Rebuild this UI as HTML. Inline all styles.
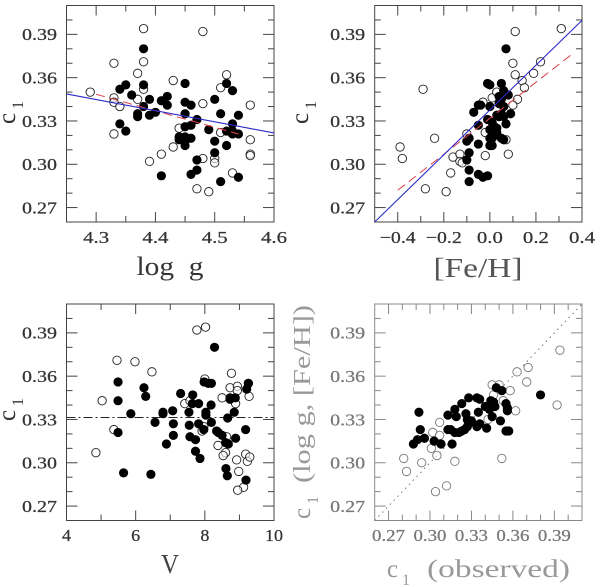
<!DOCTYPE html>
<html>
<head>
<meta charset="utf-8">
<title>c1 correlations</title>
<style>
html,body{margin:0;padding:0;background:#fff;}
svg{display:block;position:absolute;left:0;top:0;}
text{font-family:"Liberation Serif",serif;}
</style>
</head>
<body>
<svg id="chart" width="600" height="587" viewBox="0 0 600 587" xmlns="http://www.w3.org/2000/svg"></svg>
<script>
// Panel A: log g
const aFilledX=[4.38,4.35,4.34,4.36,4.38,4.39,4.38,4.37,4.37,4.39,4.40,4.34,4.35,4.41,4.42,4.42,4.41,4.45,4.45,4.46,4.45,4.47,4.46,4.45,4.44,4.44,4.45,4.46,4.45,4.45,4.47,4.47,4.46,4.50,4.51,4.49,4.50,4.50,4.51,4.52,4.53,4.54,4.53,4.52,4.53,4.54,4.52,4.54,4.53];
const aFilledY=[.380,.355,.352,.348,.355,.345,.340,.335,.333,.334,.336,.328,.323,.344,.347,.341,.292,.356,.343,.341,.335,.331,.327,.326,.319,.317,.319,.318,.316,.313,.303,.296,.293,.345,.335,.324,.316,.308,.288,.356,.351,.334,.328,.323,.321,.321,.313,.291,.323];
const aOpenX=[4.29,4.33,4.33,4.34,4.33,4.33,4.38,4.38,4.37,4.38,4.37,4.43,4.48,4.44,4.43,4.41,4.39,4.48,4.48,4.50,4.50,4.49,4.47,4.52,4.51,4.51,4.53,4.56,4.56,4.56,4.56];
const aOpenY=[.350,.346,.343,.340,.370,.321,.394,.371,.363,.352,.345,.358,.392,.325,.312,.307,.302,.342,.304,.304,.301,.281,.283,.362,.353,.322,.294,.341,.317,.307,.306];
const aBlueX=[4.25,4.6];
const aBlueY=[.3487,.3217];
const aRedX=[4.30,4.54];
const aRedY=[.3485,.321];
// Panel B: [Fe/H]
const bFilledX=[.07,-.01,0,.05,.06,.08,.04,.05,.04,.06,-.04,-.05,0,-.07,.09,.03,.05,.06,.04,-.01,-.05,.07,.01,.02,.03,0,.01,.02,.03,.01,0,.05,.06,-.09,-.10,-.05,0,.01,-.09,-.10,-.09,-.05,-.03,-.01,-.09];
const bFilledY=[.380,.356,.355,.356,.351,.348,.347,.345,.342,.340,.341,.341,.340,.336,.335,.334,.335,.333,.333,.331,.327,.328,.329,.326,.325,.324,.322,.320,.322,.318,.318,.318,.317,.318,.316,.314,.313,.313,.308,.303,.296,.293,.291,.292,.288];
const bOpenX=[.31,.11,.10,.22,.19,.11,.14,.15,.12,-.29,.10,-.03,.01,.03,-.10,-.02,-.24,.07,-.39,-.38,.08,-.02,-.16,-.13,-.13,-.12,-.17,-.28,-.19];
const bOpenY=[.394,.392,.370,.371,.363,.362,.358,.353,.345,.352,.341,.343,.346,.350,.321,.322,.318,.317,.312,.304,.307,.306,.305,.307,.302,.301,.294,.283,.281];
const bBlueX=[-.5,.4];
const bBlueY=[.26,.3997];
const bRedX=[-.4,.35];
const bRedY=[.282,.3755];
// Panel C: V
const cFilledX=[8.28,5.49,5.49,6.24,6.29,5.86,5.49,5.65,6.44,6.56,6.79,6.79,7.07,7.09,7.09,6.89,7.30,7.65,7.64,7.82,7.54,7.55,7.57,7.73,7.82,7.97,8.03,8.03,8.18,8.19,7.73,7.86,7.98,8.10,8.19,8.34,8.39,8.50,8.60,8.68,8.66,8.85,8.73,8.88,8.73,8.89,9.18,9.26,9.21,8.61,8.65,9.19,9.26];
const cFilledY=[.380,.356,.343,.352,.346,.334,.321,.293,.292,.328,.334,.335,.336,.327,.319,.313,.348,.347,.341,.341,.335,.326,.318,.316,.327,.323,.335,.333,.340,.328,.308,.303,.356,.355,.355,.322,.321,.319,.314,.313,.331,.335,.344,.345,.345,.317,.323,.355,.351,.296,.291,.288,.355];
const cOpenX=[7.77,8.02,5.46,5.98,6.47,5.03,5.37,4.85,7.42,7.57,8.00,8.77,8.73,8.94,8.94,8.50,9.28,8.89,7.92,7.97,8.63,8.38,8.60,8.53,8.92,9.18,9.23,9.30,8.98,9.12,8.95];
const cOpenY=[.392,.394,.371,.370,.363,.343,.323,.307,.341,.343,.358,.362,.352,.353,.350,.345,.346,.341,.322,.325,.318,.312,.307,.305,.302,.306,.301,.304,.294,.283,.281];
const cMeanX=[4,10];
const cMeanY=[.3314,.3314];
// Panel D: observed vs fitted
const dFilledX=[.380,.348,.352,.292,.293,.288,.291,.296,.303,.308,.316,.313,.318,.323,.328,.334,.336,.335,.319,.326,.313,.315,.318,.321,.323,.325,.327,.327,.328,.330,.334,.336,.341,.340,.343,.344,.346,.347,.345,.351,.355,.356,.356,.355,.357];
const dFilledY=[.347,.352,.350,.335,.323,.313,.316,.317,.315,.313,.313,.333,.337,.341,.345,.345,.344,.335,.332,.334,.323,.323,.321,.321,.322,.323,.325,.330,.327,.329,.325,.327,.324,.339,.337,.343,.342,.339,.332,.329,.341,.338,.336,.322,.322];
const dOpenX=[.394,.392,.363,.371,.370,.358,.345,.350,.346,.353,.362,.342,.307,.302,.307,.301,.305,.294,.281,.283,.318,.352,.312,.304];
const dOpenY=[.378,.340,.363,.366,.356,.350,.354,.354,.347,.343,.336,.330,.328,.321,.319,.310,.305,.300,.303,.294,.301,.303,.284,.280];
const dDiagX=[.26,.41];
const dDiagY=[.26,.41];
// Tick labels
const c1Ticks=[.27,.30,.33,.36,.39];
const aXTicks=[4.3,4.4,4.5,4.6];
const bXTicks=[-.4,-.2,0,.2,.4];
const cXTicks=[4,6,8,10];
const dXTicks=[.27,.30,.33,.36,.39];

const NS='http://www.w3.org/2000/svg';
const svg=document.getElementById('chart');
function mk(tag,attrs,parent,txt){
  const e=document.createElementNS(NS,tag);
  for(const k in attrs)e.setAttribute(k,attrs[k]);
  if(txt!==undefined)e.textContent=txt;
  (parent||svg).appendChild(e);
  return e;
}
function scale(d0,d1,r0,r1){return v=>r0+(v-d0)/(d1-d0)*(r1-r0);}

function drawPanel(p){
  const g=mk('g',{});
  
  
  const x=scale(p.xd[0],p.xd[1],p.x0,p.x1);
  const y=scale(.26,.41,p.y1,p.y0);
  const ink=p.ink, txt=p.txt;
  const frame=mk('rect',{x:p.x0,y:p.y0,width:p.x1-p.x0,height:p.y1-p.y0,fill:'#fff',stroke:ink,'stroke-width':1},g);
  
  

  // y ticks
  const yt=mk('g',{stroke:ink,'stroke-width':1},g);
  
  
  for(let i=27;i<=40;i++){
    const v=i/100,len=(i%3===0)?11:6,py=y(v);
    mk('line',{x1:p.x0,x2:p.x0+len,y1:py,y2:py},yt);
    mk('line',{x1:p.x1,x2:p.x1-len,y1:py,y2:py},yt);
  }
  // x ticks
  const xt=mk('g',{stroke:ink,'stroke-width':1},g);
  
  
  const n=Math.round((p.xd[1]-p.minorStart)/p.minor);
  for(let i=0;i<=n;i++){
    const v=p.minorStart+i*p.minor,len=(i%p.majorEvery===p.majorOffset)?10:6,px=x(v);
    mk('line',{x1:px,x2:px,y1:p.y1,y2:p.y1-len},xt);
    mk('line',{x1:px,x2:px,y1:p.y0,y2:p.y0+len},xt);
  }
  // y labels
  c1Ticks.forEach(v=>{
    const t=mk('text',{x:p.x0-9.5,y:y(v)+5.8,'text-anchor':'end','font-size':17,fill:txt,stroke:txt,'stroke-width':0.25,textLength:35,lengthAdjust:'spacingAndGlyphs'},g,v.toFixed(2));
    
    
  });
  // x labels
  p.xTicks.forEach(v=>{
    const s=p.fmt(v);
    const t=mk('text',{x:x(v),y:p.xLabelY,'text-anchor':'middle','font-size':17,fill:txt,stroke:txt,'stroke-width':0.25,textLength:p.tickWidth(s),lengthAdjust:'spacingAndGlyphs'},g,s);
    
    
  });
  // lines
  p.lines.forEach(l=>{
    const e=mk('line',{x1:x(l.xs[0]),y1:y(l.ys[0]),x2:x(l.xs[1]),y2:y(l.ys[1]),stroke:l.color,'stroke-width':l.w,'stroke-dasharray':l.dash||'none'},g);
    
    
  });
  // points
  const po=mk('g',{},g);
  
  
  p.openX.forEach((v,i)=>{
    const c=mk('circle',{cx:x(v),cy:y(p.openY[i]),r:4.2,fill:'#fff','fill-opacity':p.openFill,stroke:p.openInk,'stroke-width':0.9},po);
    
    
  });
  const pf=mk('g',{},g);
  
  
  p.filledX.forEach((v,i)=>{
    const c=mk('circle',{cx:x(v),cy:y(p.filledY[i]),r:4.6,fill:'#000'},pf);
    
    
  });
  // lines that sit over the markers
  (p.topLines||[]).forEach(l=>{
    const e=mk('line',{x1:x(l.xs[0]),y1:y(l.ys[0]),x2:x(l.xs[1]),y2:y(l.ys[1]),stroke:l.color,'stroke-width':l.w,'stroke-dasharray':l.dash||'none'},g);
    
    
  });
}

const blue='#2a2ac8', red='#e0404a';
const fmt2=v=>v.toFixed(2), fmt1=v=>{const s=Math.abs(v).toFixed(1);return v<0?'\u2212'+s:s;};

drawPanel({name:'log-g',x0:66.5,x1:274,y0:5.5,y1:222,xd:[4.25,4.6],minorStart:4.3,minor:.05,majorEvery:2,majorOffset:0,
  xTicks:aXTicks,fmt:fmt1,tickWidth:s=>26,xLabelY:243,ink:'#444',txt:'#333',openInk:'#222',openFill:0.6,
  filledX:aFilledX,filledY:aFilledY,openX:aOpenX,openY:aOpenY,lines:[],
  topLines:[{xs:aRedX,ys:aRedY,color:red,w:1,dash:'9 5',name:'red-dashed-fit-line'},{xs:aBlueX,ys:aBlueY,color:blue,w:1.1,name:'blue-fit-line'}]});

drawPanel({name:'fe-h',x0:374.7,x1:582,y0:5.5,y1:222,xd:[-.5,.4],minorStart:-.4,minor:.1,majorEvery:2,majorOffset:0,
  xTicks:bXTicks,fmt:fmt1,tickWidth:s=>s.length>3?36:26,xLabelY:243,ink:'#444',txt:'#333',openInk:'#222',openFill:0.6,
  filledX:bFilledX,filledY:bFilledY,openX:bOpenX,openY:bOpenY,lines:[],
  topLines:[{xs:bRedX,ys:bRedY,color:red,w:1,dash:'9 5',name:'red-dashed-fit-line'},{xs:bBlueX,ys:bBlueY,color:blue,w:1.1,name:'blue-fit-line'}]});

drawPanel({name:'v-mag',x0:66.5,x1:274,y0:304,y1:520.5,xd:[4,10],minorStart:4,minor:1,majorEvery:2,majorOffset:0,
  xTicks:cXTicks,fmt:v=>String(v),tickWidth:s=>s.length>1?18:9,xLabelY:541,ink:'#444',txt:'#333',openInk:'#222',openFill:0.6,
  filledX:cFilledX,filledY:cFilledY,openX:cOpenX,openY:cOpenY,
  lines:[{xs:cMeanX,ys:cMeanY,color:'#222',w:1,dash:'9 3 2 3',name:'mean-dash-dot-line'}]});

drawPanel({name:'observed',x0:374.7,x1:582,y0:304,y1:520.5,xd:[.26,.41],minorStart:.27,minor:.01,majorEvery:3,majorOffset:0,
  xTicks:dXTicks,fmt:fmt2,tickWidth:s=>33,xLabelY:541,ink:'#888',txt:'#777',openInk:'#777',openFill:0.6,
  filledX:dFilledX,filledY:dFilledY,openX:dOpenX,openY:dOpenY,
  lines:[{xs:dDiagX,ys:dDiagY,color:'#777',w:1,dash:'1.5 4',name:'identity-dotted-line'}]});

// Axis titles
function title(name,str,x,y,size,w,fill,rot){
  const t=mk('text',{x:x,y:y,'text-anchor':'middle','font-size':size,fill:fill,textLength:w,lengthAdjust:'spacingAndGlyphs'},svg,str);
  if(rot)t.setAttribute('transform','rotate(-90 '+x+' '+y+')');
  
  
  return t;
}
title('x-axis-title-log-g','log\u00a0\u00a0g',170,275,26,67,'#333');
title('x-axis-title-fe-h','[Fe/H]',478,277,27,89,'#555');
title('x-axis-title-v','V',170,573,27,18,'#444');
title('x-axis-title-observed','(observed)',498.5,577,25,143,'#999');

function c1Label(name,x,y,fill,size,subSize,hor){
  const g=mk('g',{},svg);
  
  
  const c=mk('text',{'font-size':size,fill:fill,x:x,y:y,'text-anchor':'start'},g,'c');
  const s=mk('text',{'font-size':subSize,fill:fill,'text-anchor':'start'},g,'1');
  if(hor){
    s.setAttribute('x',x+15);
    s.setAttribute('y',y+8);
  }else{
    const sx=x+8, sy=y-15;
    c.setAttribute('transform','rotate(-90 '+x+' '+y+')');
    s.setAttribute('x',sx);
    s.setAttribute('y',sy);
    s.setAttribute('transform','rotate(-90 '+sx+' '+sy+')');
  }
}
c1Label('y-axis-title-log-g',15,124,'#333',25,16);
c1Label('y-axis-title-fe-h',308,124,'#333',25,16);
c1Label('y-axis-title-v',15,421,'#333',25,16);
c1Label('y-axis-title-observed-c',310,519,'#999',25,16);
c1Label('x-axis-title-observed-c',387,577,'#999',25,16,true);
title('y-axis-title-fitted','(log g, [Fe/H])',310,394,24,178,'#999',true);
</script>
</body>
</html>
